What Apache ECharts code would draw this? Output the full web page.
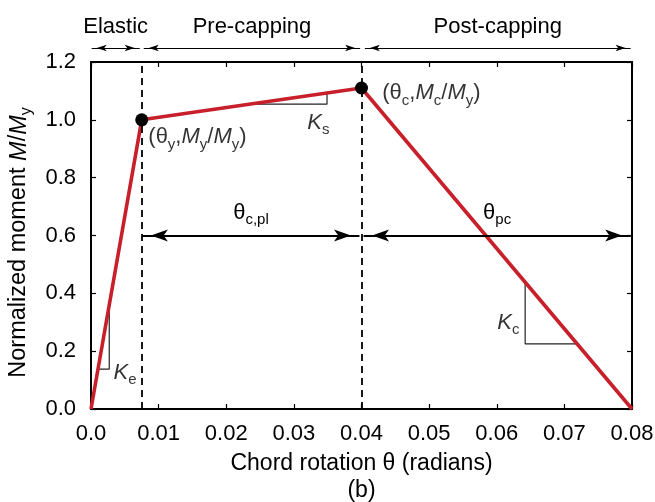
<!DOCTYPE html>
<html><head><meta charset="utf-8">
<script src="https://cdn.jsdelivr.net/npm/echarts@6/dist/echarts.min.js"></script>
<style>html,body{margin:0;padding:0;background:#fff}#c{width:655px;height:502px}</style>
</head><body><div id="c"></div>
<script>
// ---- data ----
const curveTheta = [0, 0.0075, 0.04, 0.08];
const curveMoment = [0, 1.0, 1.11, 0];
const keyTheta = [0.0075, 0.04];
const keyMoment = [1.0, 1.11];
const xTickLabels = ['0.0','0.01','0.02','0.03','0.04','0.05','0.06','0.07','0.08'];
const yTickLabels = ['0.0','0.2','0.4','0.6','0.8','1.0','1.2'];
const dashedTheta = [0.0075, 0.04];
const keTriX = [0.0012, 0.0027, 0.0027], keTriY = [0.138, 0.138, 0.35];
const ksTriX = [0.0241, 0.0349, 0.0349], ksTriY = [1.054, 1.054, 1.092];
const kcTriX = [0.0642, 0.0642, 0.0717], kcTriY = [0.436, 0.225, 0.225];
const phaseNames = ['Elastic', 'Pre-capping', 'Post-capping'];
const phaseStart = [0.0001, 0.0078, 0.0405];
const phaseEnd = [0.0072, 0.0398, 0.0798];
const spanLevel = 0.6;
const spanStart = [0.0076, 0.0403];
const spanEnd = [0.0397, 0.0798];
const spanLabels = ['{n|θ}{s|c,pl}', '{n|θ}{s|pc}'];
const noteTheta = [0.0084, 0.0430, 0.0319, 0.00325, 0.0600];
const noteMoment = [0.941, 1.093, 0.990, 0.125, 0.298];
const noteText = [
  '{n|(θ}{s|y}{n|,}{i|M}{s|y}{n|/}{i|M}{s|y}{n|)}',
  '{n|(θ}{s|c}{n|,}{i|M}{s|c}{n|/}{i|M}{s|y}{n|)}',
  '{i|K}{s|s}',
  '{i|K}{s|e}',
  '{i|K}{s|c}'
];

// ---- styles ----
const F = '"Liberation Sans", Arial, Helvetica, sans-serif';
const RED = '#c8202b';
const FS = 22;
const mkRich = (fs, sfs) => ({
  n: {fontSize: fs, fontFamily: F, color: '#000', lineHeight: fs + 2, padding: [0, 0, 4, 0], verticalAlign: 'bottom'},
  i: {fontSize: fs, fontFamily: F, color: '#000', fontStyle: 'italic', lineHeight: fs + 2, padding: [0, 0, 4, 0], verticalAlign: 'bottom'},
  s: {fontSize: sfs, fontFamily: F, color: '#000', lineHeight: sfs + 1, verticalAlign: 'bottom'}
});
const rich = mkRich(FS, 15);
const zip = (a, b) => a.map((v, i) => [v, b[i]]);

const chart = echarts.init(document.getElementById('c'), null, {renderer: 'canvas'});
const axisLine = {show: true, onZero: false, lineStyle: {color: '#000', width: 2}};
const tickIn = {show: true, inside: true, length: 5, lineStyle: {color: '#000', width: 1.2}};
const arrowEnd = (coord, size, extra) => Object.assign({coord, symbol: 'arrow', symbolSize: size, symbolOffset: [0, '50%']}, extra || {});

const option = {
  animation: false,
  backgroundColor: '#fff',
  grid: [
    {left: 91, right: 23, top: 62, bottom: 93, containLabel: false, outerBoundsMode: 'none'},
    {left: 91, right: 23, top: 38, height: 20, containLabel: false, outerBoundsMode: 'none'}
  ],
  xAxis: [
    {type: 'value', gridIndex: 0, min: 0, max: 0.08, interval: 0.01, position: 'bottom',
     axisLine, axisTick: tickIn, splitLine: {show: false},
     axisLabel: {fontSize: FS, fontFamily: F, color: '#000', margin: 14,
       formatter: (v) => xTickLabels[Math.round(v / 0.01)]},
     name: 'Chord rotation θ (radians)\n(b)', nameLocation: 'middle', nameGap: 40,
     nameTextStyle: {fontSize: 23, fontFamily: F, color: '#000', lineHeight: 27}},
    {type: 'value', gridIndex: 0, min: 0, max: 0.08, interval: 0.01, position: 'top',
     axisLine, axisTick: tickIn, axisLabel: {show: false}, splitLine: {show: false}},
    {type: 'value', gridIndex: 1, min: 0, max: 0.08, show: false}
  ],
  yAxis: [
    {type: 'value', gridIndex: 0, min: 0, max: 1.2, interval: 0.2, position: 'left',
     axisLine, axisTick: tickIn, splitLine: {show: false},
     axisLabel: {fontSize: FS, fontFamily: F, color: '#000', margin: 15,
       formatter: (v) => yTickLabels[Math.round(v / 0.2)]},
     name: '{n|Normalized moment }{i|M}{n|/}{i|M}{s|y}', nameLocation: 'middle', nameGap: 47,
     nameTextStyle: {rich: mkRich(23.5, 16), padding: [0, 14, 0, 0]}},
    {type: 'value', gridIndex: 0, min: 0, max: 1.2, interval: 0.2, position: 'right',
     axisLine, axisTick: tickIn, axisLabel: {show: false}, splitLine: {show: false}},
    {type: 'value', gridIndex: 1, min: 0, max: 1, show: false}
  ],
  series: [
    // phase arrows above the plot
    {type: 'line', xAxisIndex: 2, yAxisIndex: 2, data: [], symbol: 'none', silent: true,
     markLine: {
       silent: true, animation: false, precision: 6,
       lineStyle: {color: '#000', width: 1.2, type: 'solid'},
       label: {show: true, position: 'middle', distance: 10, fontSize: FS, fontFamily: F, color: '#000'},
       data: phaseNames.map((n, i) => [
         arrowEnd([phaseStart[i], 0.5], [5, 10], {name: n, label: {formatter: n}}),
         arrowEnd([phaseEnd[i], 0.5], [5, 10])
       ])
     }},
    // dashed verticals
    {type: 'line', xAxisIndex: 0, yAxisIndex: 0, data: [], symbol: 'none', silent: true,
     markLine: {
       silent: true, animation: false, precision: 6,
       symbol: ['none', 'none'],
       lineStyle: {color: '#000', width: 1.8, type: [7, 5]},
       label: {show: false},
       data: dashedTheta.map(v => ({xAxis: v}))
     }},
    // span arrows
    {type: 'line', xAxisIndex: 0, yAxisIndex: 0, data: [], symbol: 'none', silent: true,
     markLine: {
       silent: true, animation: false, precision: 6,
       lineStyle: {color: '#000', width: 2, type: 'solid'},
       label: {show: true, position: 'middle', distance: 8, rich},
       data: spanLabels.map((t, i) => [
         arrowEnd([spanStart[i], spanLevel], [9, 17], {label: {formatter: t}}),
         arrowEnd([spanEnd[i], spanLevel], [9, 17])
       ])
     }},
    // slope triangles
    ...[[keTriX, keTriY], [ksTriX, ksTriY], [kcTriX, kcTriY]].map(([xs, ys]) => ({
      type: 'line', xAxisIndex: 0, yAxisIndex: 0, data: zip(xs, ys), symbol: 'none', silent: true,
      lineStyle: {color: '#222', width: 1.2}, z: 2
    })),
    // main curve
    {type: 'line', xAxisIndex: 0, yAxisIndex: 0, data: zip(curveTheta, curveMoment), symbol: 'none',
     lineStyle: {color: RED, width: 3.6}, z: 4, silent: true},
    // key points
    {type: 'scatter', xAxisIndex: 0, yAxisIndex: 0, data: zip(keyTheta, keyMoment),
     symbol: 'circle', symbolSize: 13, itemStyle: {color: '#000', opacity: 1}, z: 6, silent: true},
    // annotations
    {type: 'scatter', xAxisIndex: 0, yAxisIndex: 0, silent: true, z: 7,
     symbol: 'circle', symbolSize: 1, itemStyle: {color: 'rgba(0,0,0,0)'},
     data: noteText.map((t, i) => ({value: [noteTheta[i], noteMoment[i]],
       label: {show: true, position: 'right', distance: 0, offset: [0, 3], formatter: t, rich}}))}
  ]
};
chart.setOption(option);
</script></body></html>
